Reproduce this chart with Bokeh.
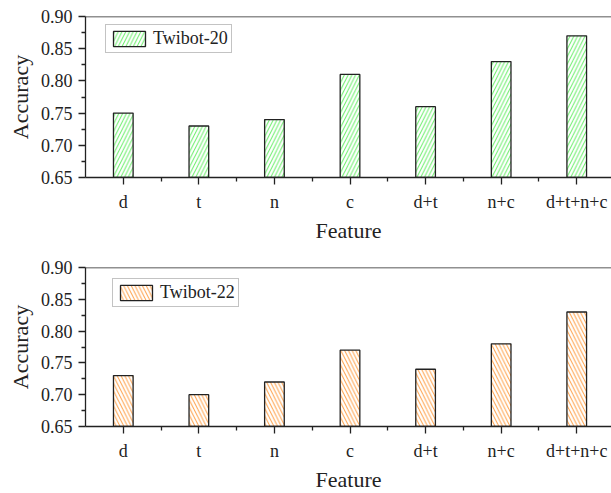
from bokeh.plotting import figure
from bokeh.layouts import column
from bokeh.models import Range1d, FixedTicker, Span, PrintfTickFormatter, ColumnDataSource
from bokeh.embed import file_html
from bokeh.resources import INLINE

features = ["d", "t", "n", "c", "d+t", "n+c", "d+t+n+c"]
twibot20 = [0.75, 0.73, 0.74, 0.81, 0.76, 0.83, 0.87]
twibot22 = [0.73, 0.70, 0.72, 0.77, 0.74, 0.78, 0.83]
y_ticks = [0.65, 0.70, 0.75, 0.80, 0.85, 0.90]
y_minor = [0.675, 0.725, 0.775, 0.825, 0.875]

SERIF = "Liberation Serif"
AX = "#222222"


def make(values, name, pattern, hcolor, fh, bt, bb, loc):
    p = figure(frame_width=526, frame_height=fh,
               min_border_left=85, min_border_right=0,
               min_border_top=bt, min_border_bottom=bb,
               x_range=Range1d(-0.5, 6.46), y_range=Range1d(0.65, 0.90),
               output_backend="svg", toolbar_location=None)
    src = ColumnDataSource(dict(x=list(range(len(features))), top=values))
    p.vbar(x="x", top="top", bottom=0.65, width=0.26, source=src,
           fill_color="white", line_color=AX, line_width=1.3,
           hatch_pattern=pattern, hatch_color=hcolor, hatch_scale=7.5,
           hatch_weight=1.0, legend_label=name)
    p.add_layout(Span(location=0.90, dimension="width", line_color=AX, line_width=1.3))
    p.outline_line_color = None
    p.grid.visible = False
    p.background_fill_color = "white"
    p.border_fill_color = "white"

    xa = p.xaxis[0]
    xa.ticker = FixedTicker(ticks=list(range(len(features))),
                            minor_ticks=[i + 0.5 for i in range(len(features) - 1)])
    xa.major_label_overrides = {i: f for i, f in enumerate(features)}
    xa.axis_label = "Feature"

    ya = p.yaxis[0]
    ya.ticker = FixedTicker(ticks=y_ticks, minor_ticks=y_minor)
    ya.formatter = PrintfTickFormatter(format="%.2f")
    ya.axis_label = "Accuracy"

    for ax in (xa, ya):
        ax.axis_line_color = AX
        ax.axis_line_width = 1.3
        ax.major_tick_line_color = AX
        ax.major_tick_line_width = 1.3
        ax.minor_tick_line_color = AX
        ax.minor_tick_line_width = 1.3
        ax.major_tick_in = 0
        ax.minor_tick_in = 0
        ax.major_tick_out = 7
        ax.minor_tick_out = 4
        ax.major_label_text_font = SERIF
        ax.major_label_text_font_size = "18px"
        ax.major_label_text_color = "#222222"
        ax.axis_label_text_font = SERIF
        ax.axis_label_text_font_size = "22px"
        ax.axis_label_text_font_style = "normal"
        ax.axis_label_text_color = "#222222"
    xa.major_label_standoff = 7
    xa.axis_label_standoff = 3
    ya.major_label_standoff = 6
    ya.axis_label_standoff = 5

    lg = p.legend[0]
    lg.location = loc
    lg.margin = 0
    lg.padding = 3
    lg.spacing = 0
    lg.glyph_width = 40
    lg.glyph_height = 19
    lg.label_height = 19
    lg.label_standoff = 4
    lg.label_text_font = SERIF
    lg.label_text_font_size = "18px"
    lg.label_text_color = "#222222"
    lg.border_line_color = "#888888"
    lg.border_line_width = 1
    lg.background_fill_color = "white"
    lg.background_fill_alpha = 1.0
    return p


p1 = make(twibot20, "Twibot-20", "/", "#66ee66", 161, 16, 82, (20, 124))
p2 = make(twibot22, "Twibot-22", "\\", "#ff9f45", 159, 8, 64, (27, 119))

layout = column(p1, p2, spacing=0)
open("out.html", "w").write(file_html(layout, INLINE))
